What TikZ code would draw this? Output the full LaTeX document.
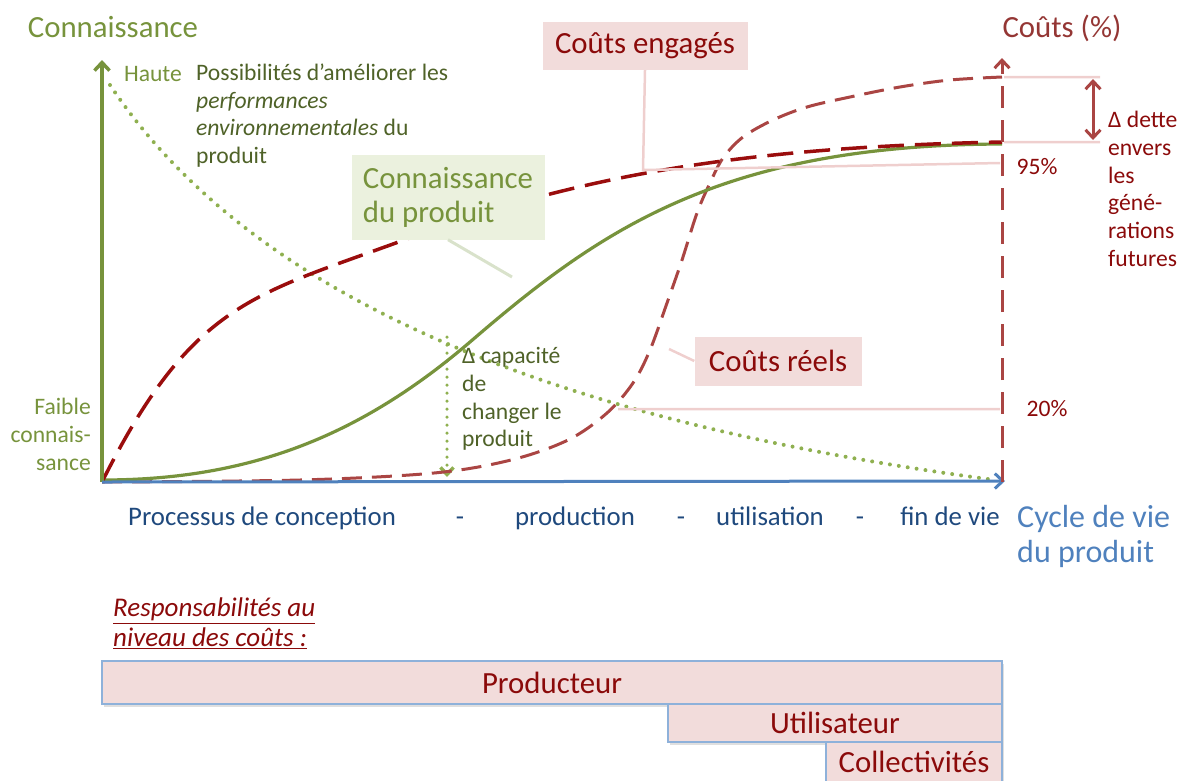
\documentclass[tikz,border=0pt]{standalone}
\usepackage{fontspec}
\setmainfont{Carlito}
\usetikzlibrary{arrows.meta,shadows}
\definecolor{kgreen}{HTML}{77933C}
\definecolor{dgreen}{HTML}{4F6228}
\definecolor{lgreen}{HTML}{8FB050}
\definecolor{kfill}{HTML}{EBF1DE}
\definecolor{pfill}{HTML}{F2DCDB}
\definecolor{plcol}{HTML}{EFCFCE}
\definecolor{klcol}{HTML}{D9E2CB}
\definecolor{dred}{HTML}{8B0A0A}
\definecolor{ered}{HTML}{9A0D0D}
\definecolor{rred}{HTML}{AA4543}
\definecolor{cred}{HTML}{943634}
\definecolor{cblue}{HTML}{4F81BD}
\definecolor{dblue}{HTML}{1F497D}
\definecolor{bborder}{HTML}{8EB1DA}
\tikzset{big/.style={font=\fontsize{30.8}{34}\selectfont,inner sep=0pt},small/.style={font=\fontsize{23.6}{27.8}\selectfont,inner sep=0pt},xlab/.style={font=\fontsize{26.8}{30}\selectfont,text=dblue,inner sep=0pt,anchor=base}}
\tikzset{pbox/.style={big,fill=pfill,text=dred},kbox/.style={big,fill=kfill,text=kgreen,align=left},rbox/.style={big,fill=pfill,draw=bborder,line width=1.5pt,text=dred,drop shadow={shadow xshift=1.5pt,shadow yshift=-2.5pt,opacity=0.25}}}
\tikzset{barb/.style={-{Straight Barb[length=8pt,width=15pt]}},pline/.style={draw=plcol,line width=2.5pt},kline/.style={draw=klcol,line width=3pt},dots/.style={lgreen,line width=4pt,line cap=round,dash pattern=on 0pt off 9pt}}
\begin{document}
\begin{tikzpicture}[x=1pt,y=-1pt]
    \useasboundingbox (0,0) rectangle (1177,780);
    \coordinate (O) at (102,482);
    \coordinate (Ytop) at (102,60);
    \coordinate (Xend) at (1005,481);
    \coordinate (Rbot) at (1002,482);
    \coordinate (Rtop) at (1002,58);
    \coordinate (ceFoot) at (643,170);
    \coordinate (p95) at (1000,163);
    \coordinate (crFoot) at (669,349);
    \coordinate (kFoot) at (512,277);
    \coordinate (p20a) at (618,409);
    \coordinate (p20b) at (1000,409);
    \coordinate (hiA) at (1004,77);
    \coordinate (hiB) at (1100,77);
    \coordinate (loA) at (1004,142);
    \coordinate (loB) at (1100,142);
    \coordinate (dA) at (1093,79);
    \coordinate (dB) at (1093,140);
    \coordinate (vA) at (447,337);
    \coordinate (vB) at (447,477);
    \coordinate (kMid) at (470,342);
    \coordinate (eMid) at (404,240);
    % curves
    \draw[dots] (110,85) .. controls (260,310) and (580,425) .. (995,480);
    \draw[dots, line width=3.5pt, dash pattern=on 0pt off 8pt, -{Straight Barb[length=7pt,width=13pt]}] (vA) -- (vB);
    \draw[rred, line width=3pt, dash pattern=on 20pt off 10pt] plot[smooth, tension=0.55] coordinates {(102,482) (300,480) (434,473) (511,460) (568,440) (607,413) (633,383) (650,350) (667,303) (682,260) (697,213) (710,183) (723,158) (743,137) (773,120) (807,107) (850,97) (900,87) (950,80) (1002,77)};
    \draw[kgreen, line width=3.2pt] (102,480) .. controls (250,480) and (360,436) .. (kMid) .. controls (600,230) and (720,145) .. (1002,144);
    \draw[ered, line width=3.5pt, dash pattern=on 26pt off 11pt] (O) .. controls (192,302) and (254,295) .. (eMid) .. controls (584,173) and (752,147) .. (1002,142);
    % axes
    \draw[kgreen, line width=3.5pt, barb] (O) -- (Ytop);
    \draw[cblue, line width=3pt, barb] (O) -- (Xend);
    \draw[rred, line width=3pt, dash pattern=on 22pt off 12pt, barb] (Rbot) -- (Rtop);
    \draw[rred, line width=3pt, {Straight Barb[length=8pt,width=15pt]}-{Straight Barb[length=8pt,width=15pt]}] (dA) -- (dB);
    % callouts
    \node[pbox, minimum width=205pt, minimum height=48pt] (ceBox) at (645,46) {Coûts engagés};
    \node[pbox, minimum width=167pt, minimum height=49pt] (crBox) at (778,361) {Coûts réels};
    \node[kbox, minimum width=193pt, minimum height=85pt] (kBox) at (448,197) {Connaissance\\du produit};
    \draw[pline] (ceBox.south) -- (ceFoot) -- (p95) (crBox.west) -- (crFoot) (p20a) -- (p20b)
    (hiA) -- (hiB) (loA) -- (loB);
    \draw[kline] (kBox.south) -- (kFoot);
    % labels
    \node[big, text=kgreen] (tConn) at (113,27) {Connaissance};
    \node[big, text=cred] (tCouts) at (1062,28) {Coûts (\%)};
    \node[small, text=kgreen] (tHaute) at (153,74) {Haute};
    \node[small, text=dgreen, align=left, anchor=north west, font=\fontsize{23.6}{27.4}\selectfont] (tPossib) at (196,64) {Possibilités d’améliorer les\\\textit{performances}\\\textit{environnementales} du\\produit};
    \node[small, text=kgreen, align=right, anchor=north east] (tFaible) at (91,398) {Faible\\connais-\\sance};
    \node[small, text=dgreen, align=left, anchor=north west] (tDelta) at (462,347) {Δ capacité\\de\\changer le\\produit};
    \node[small, text=dred, align=left, anchor=north west] (tDette) at (1108,111) {Δ dette\\envers\\les\\géné-\\rations\\futures};
    \node[small, text=dred] (t95) at (1037,167) {95\%};
    \node[small, text=dred] (t20) at (1047,409) {20\%};
    \node[xlab] (xConc) at (262,525) {Processus de conception};
    \node[xlab] (xD1) at (460,525) {-};
    \node[xlab] (xProd) at (575,525) {production};
    \node[xlab] (xD2) at (681,525) {-};
    \node[xlab] (xUtil) at (770,525) {utilisation};
    \node[xlab] (xD3) at (860,525) {-};
    \node[xlab] (xFin) at (950,525) {fin de vie};
    \node[big, text=cblue, align=left, anchor=north west, font=\fontsize{32}{35}\selectfont] (tCycle) at (1017,505) {Cycle de vie\\du produit};
    \node[small, text=dred, align=left, anchor=north west, font=\fontsize{27}{30}\selectfont\itshape] (tResp) at (113,598) {\underline{Responsabilités au}\\\underline{niveau des coûts :}};
    % responsibilities
    \node[rbox, minimum width=900pt, minimum height=43pt] (bProd) at (552,682.5) {Producteur};
    \node[rbox, minimum width=334pt, minimum height=38pt] (bUtil) at (835,723) {Utilisateur};
    \node[rbox, minimum width=176pt, minimum height=40pt] (bColl) at (914,762) {Collectivités};
\end{tikzpicture}
\end{document}
